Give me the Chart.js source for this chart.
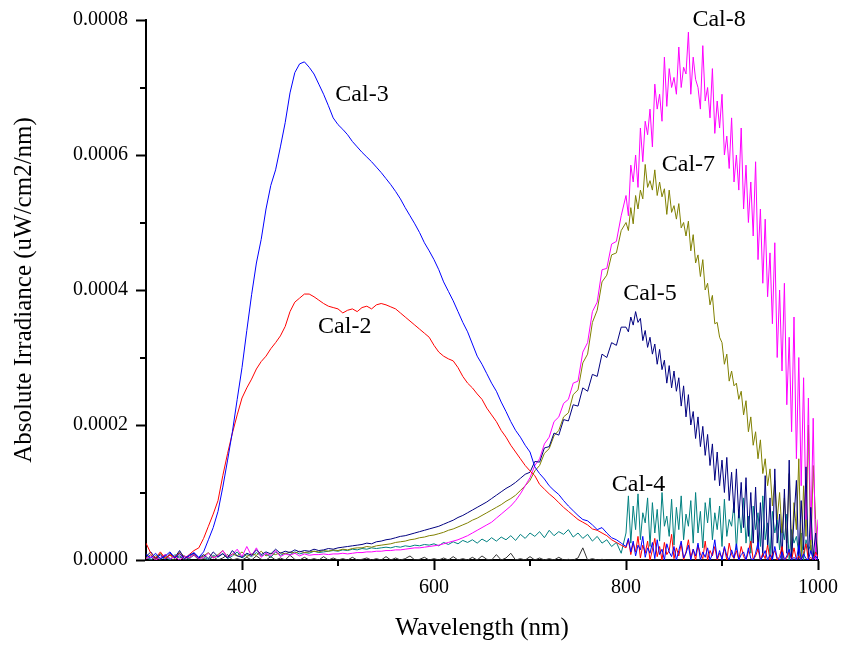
<!DOCTYPE html>
<html>
<head>
<meta charset="utf-8">
<script src="https://cdn.jsdelivr.net/npm/chart.js@4.4.1/dist/chart.umd.min.js"></script>
<style>
  html, body { margin: 0; padding: 0; background: #fff; }
  #wrap { width: 844px; height: 645px; }
</style>
</head>
<body>
<div id="wrap"><canvas id="irradianceChart" width="844" height="645"></canvas></div>
<script>
// wavelength grid (nm): every 5 nm up to 795, every 2.5 nm in the noisy 800-1000 part
const wavelengths = [
  300,305,310,315,320,325,330,335,340,345,350,355,360,365,370,375,380,385,390,395,
  400,405,410,415,420,425,430,435,440,445,450,455,460,465,470,475,480,485,490,495,
  500,505,510,515,520,525,530,535,540,545,550,555,560,565,570,575,580,585,590,595,
  600,605,610,615,620,625,630,635,640,645,650,655,660,665,670,675,680,685,690,695,
  700,705,710,715,720,725,730,735,740,745,750,755,760,765,770,775,780,785,790,795,
  800,802.5,805,807.5,810,812.5,815,817.5,820,822.5,825,827.5,830,832.5,835,837.5,840,842.5,845,847.5,
  850,852.5,855,857.5,860,862.5,865,867.5,870,872.5,875,877.5,880,882.5,885,887.5,890,892.5,895,897.5,
  900,902.5,905,907.5,910,912.5,915,917.5,920,922.5,925,927.5,930,932.5,935,937.5,940,942.5,945,947.5,
  950,952.5,955,957.5,960,962.5,965,967.5,970,972.5,975,977.5,980,982.5,985,987.5,990,992.5,995,997.5,
  1000
];

// irradiance values in units of 1e-6 uW/cm2/nm
const cal2 = [
  25,10,3,12,2,8,4,10,2,8,14,18,32,50,68,88,125,158,188,215,
  240,255,268,283,294,302,313,322,332,346,368,382,388,394,394,390,385,380,376,374,
  372,366,370,372,368,374,376,372,378,380,378,375,372,366,360,354,348,342,336,330,
  318,308,302,298,295,285,272,262,255,246,238,225,215,205,192,182,170,160,150,140,
  132,125,112,105,98,92,85,78,72,66,60,56,52,46,44,40,36,30,26,22,
  18,30,8,25,12,35,3,22,10,28,0,15,32,5,20,0,26,8,14,38,
  2,18,6,24,0,12,30,4,16,0,22,9,2,28,0,14,6,20,0,10,
  4,18,0,25,8,2,14,0,20,5,0,12,28,0,6,16,0,10,2,22,
  0,8,14,0,5,20,0,3,12,0,18,0,6,0,10,24,0,4,0,12,
  5
];
const cal3 = [
  8,3,10,2,6,12,3,9,2,7,11,4,12,30,48,72,108,148,190,238,
  285,340,393,440,475,520,555,578,612,648,692,722,735,738,730,720,705,690,673,655,
  645,638,630,620,612,604,597,590,582,574,565,556,546,535,522,510,498,485,470,458,
  445,430,412,398,384,368,352,338,320,302,290,276,262,250,234,220,205,192,182,170,
  160,138,128,120,110,103,97,88,80,73,66,60,58,52,45,48,40,33,30,25,
  20,32,12,28,6,22,15,35,4,18,10,26,2,30,8,16,0,24,12,5,
  20,0,14,28,3,10,22,0,16,6,25,0,12,4,18,0,9,30,2,14,
  0,20,6,0,15,3,24,0,8,12,0,18,2,0,10,26,0,5,14,0,
  8,0,20,3,0,12,0,6,16,0,4,0,22,0,9,2,0,14,0,6,
  0
];
const cal4 = [
  4,0,7,2,5,0,8,3,6,1,9,2,5,0,7,4,10,2,6,12,
  3,8,5,11,6,9,4,12,7,10,8,12,9,11,10,13,11,12,13,14,
  13,15,14,16,15,17,16,18,17,18,19,18,20,19,21,20,22,21,23,22,
  24,21,26,23,27,24,29,26,30,25,31,27,33,28,34,30,36,29,38,32,
  40,35,42,33,44,36,42,38,45,34,40,32,38,28,35,25,30,20,26,10,
  40,95,25,80,45,98,30,70,55,92,20,85,40,75,28,100,50,65,35,90,
  22,78,45,95,30,68,50,88,25,100,40,72,18,85,55,92,30,70,45,80,
  20,90,35,60,50,85,15,75,40,92,25,65,10,80,45,70,20,95,30,55,
  5,72,40,60,15,50,30,68,0,45,25,35,10,40,0,30,15,22,0,18,
  0
];
const cal5 = [
  5,12,2,8,0,10,4,14,2,6,10,3,8,2,12,5,9,3,14,6,
  4,10,7,15,8,12,9,16,10,13,11,15,12,14,13,16,14,15,17,16,
  18,19,20,21,22,23,25,24,27,28,30,31,33,35,36,38,40,42,44,46,
  48,50,53,56,59,63,66,70,74,78,82,86,91,96,101,106,110,115,121,127,
  130,146,145,166,168,188,185,208,206,230,228,255,250,275,272,305,300,322,318,345,
  345,338,360,348,368,352,358,325,340,315,330,305,320,290,312,282,296,262,288,255,
  280,250,270,228,258,212,245,200,220,180,212,168,198,155,186,140,172,118,160,110,
  148,100,152,88,130,70,135,62,115,48,122,35,100,25,108,15,85,5,125,20,
  92,0,135,25,68,0,105,10,148,0,62,118,0,88,15,138,0,78,5,40,
  0
];
const cal6 = [
  10,0,4,0,8,2,0,6,0,3,7,0,2,0,5,0,3,8,0,2,
  0,4,0,6,1,0,5,0,3,0,7,1,0,4,0,2,0,5,0,3,
  0,2,0,4,0,1,3,0,2,0,5,0,3,0,2,6,0,1,4,0,
  2,0,3,0,5,0,2,0,4,0,6,1,0,8,0,3,10,0,2,0,
  5,0,3,0,2,0,4,0,1,0,3,18,0,2,0,1,0,0,0,0,
  0,0,0,0,0,0,0,0,0,0,0,0,0,0,0,0,0,0,0,0,
  0,0,0,0,0,0,0,0,0,0,0,0,0,0,0,0,0,0,0,0,
  0,0,0,0,0,0,0,0,0,0,0,0,0,0,0,0,0,0,0,0,
  0,0,0,0,0,0,0,0,0,0,0,0,0,0,0,0,0,0,0,0,
  0
];
const cal7 = [
  3,8,0,10,4,7,2,12,5,3,9,2,6,11,3,8,14,4,9,6,
  12,5,9,7,13,6,10,8,11,9,12,10,13,11,12,13,12,14,13,15,
  14,16,15,17,18,18,20,19,21,22,23,24,26,27,28,30,31,33,34,36,
  37,39,41,44,46,49,52,55,59,62,66,70,74,78,82,87,91,96,103,110,
  118,132,140,158,165,184,192,212,218,245,252,292,305,352,370,412,422,452,455,488,
  500,488,522,498,540,520,548,535,586,552,562,548,578,540,560,538,550,512,548,515,
  525,505,528,492,500,480,502,458,482,440,452,420,445,400,410,378,392,350,352,330,
  322,290,305,265,280,258,262,238,250,215,236,190,212,170,190,150,178,128,150,110,
  135,80,118,60,100,40,92,25,128,5,85,45,150,0,110,35,200,10,140,60,
  0
];
const cal8 = [
  2,6,0,4,8,2,5,0,6,3,8,2,4,10,3,6,14,4,8,16,
  5,20,6,18,4,10,6,14,5,9,7,10,6,9,7,8,8,9,8,9,
  9,10,9,10,11,11,12,12,13,13,14,14,15,15,16,17,18,18,19,20,
  21,22,24,26,28,30,33,36,40,44,48,52,56,62,68,74,80,88,98,110,
  122,140,150,172,182,205,212,232,238,262,265,308,322,368,382,430,432,468,472,510,
  540,510,585,560,600,552,640,590,650,630,668,612,705,668,690,650,745,672,728,700,
  715,690,760,700,730,720,782,690,745,712,700,668,762,680,700,655,728,632,680,640,
  690,600,628,580,655,560,600,548,640,520,585,500,560,480,590,445,520,410,505,390,
  455,350,470,300,400,280,410,230,330,190,360,150,300,110,270,60,240,30,210,0,
  60
];

// axis ticks
const xMajorTicks = [400, 600, 800, 1000];
const xMinorTicks = [500, 700, 900];
const yMajorTicks = [0, 0.0002, 0.0004, 0.0006, 0.0008];
const yMinorTicks = [0.0001, 0.0003, 0.0005, 0.0007];

// curve labels placed in data coordinates
const curveLabels = [
  { text: 'Cal-3', x: 525, y: 0.000689 },
  { text: 'Cal-2', x: 507, y: 0.000345 },
  { text: 'Cal-8', x: 897, y: 0.000801 },
  { text: 'Cal-7', x: 865, y: 0.000585 },
  { text: 'Cal-5', x: 825, y: 0.000394 },
  { text: 'Cal-4', x: 813, y: 0.000111 }
];

const SERIF = "'Liberation Serif', 'Times New Roman', serif";

const toPoints = (vals) => vals.map((v, i) => ({ x: wavelengths[i], y: v * 1e-6 }));

const series = [
  { label: 'Cal-3', data: cal3, color: '#0000ff' },
  { label: 'Cal-2', data: cal2, color: '#ff0000' },
  { label: 'Cal-5', data: cal5, color: '#000080' },
  { label: 'Cal-8', data: cal8, color: '#ff00ff' },
  { label: 'Cal-7', data: cal7, color: '#808000' },
  { label: 'Cal-4', data: cal4, color: '#008080' },
  { label: 'Cal-6', data: cal6, color: '#333333' }
];

const extrasPlugin = {
  id: 'extras',
  afterDraw(chart) {
    const { ctx, scales: { x, y }, chartArea } = chart;
    ctx.save();
    ctx.strokeStyle = '#000';
    ctx.lineWidth = 2;
    ctx.beginPath();
    xMinorTicks.forEach(v => {
      const px = Math.round(x.getPixelForValue(v));
      ctx.moveTo(px, chartArea.bottom);
      ctx.lineTo(px, chartArea.bottom + 6);
    });
    yMinorTicks.forEach(v => {
      const py = Math.round(y.getPixelForValue(v));
      ctx.moveTo(chartArea.left - 6, py);
      ctx.lineTo(chartArea.left, py);
    });
    ctx.stroke();

    ctx.fillStyle = '#000';
    ctx.font = '24px ' + SERIF;
    ctx.textAlign = 'center';
    ctx.textBaseline = 'middle';
    curveLabels.forEach(l => {
      ctx.fillText(l.text, x.getPixelForValue(l.x), y.getPixelForValue(l.y));
    });
    ctx.restore();
  }
};

const ctx = document.getElementById('irradianceChart').getContext('2d');

const chart = new Chart(ctx, {
  type: 'line',
  data: {
    datasets: series.map(s => ({
      label: s.label,
      data: toPoints(s.data),
      borderColor: s.color,
      borderWidth: 1,
      pointRadius: 0,
      tension: 0,
      fill: false
    }))
  },
  options: {
    responsive: false,
    animation: false,
    devicePixelRatio: 1,
    layout: { padding: { top: 18, right: 24, left: 0, bottom: 0 } },
    plugins: {
      legend: { display: false },
      tooltip: { enabled: false }
    },
    scales: {
      x: {
        type: 'linear',
        min: 300,
        max: 1000,
        afterBuildTicks: (s) => { s.ticks = xMajorTicks.map(v => ({ value: v })); },
        afterFit: (s) => { s.height = 85; },
        ticks: {
          color: '#000',
          font: { family: SERIF, size: 20 },
          padding: 6,
          maxRotation: 0,
          callback: (v) => String(v)
        },
        grid: {
          drawOnChartArea: false,
          tickLength: 10,
          tickColor: '#000',
          tickWidth: 2
        },
        border: { display: true, color: '#000', width: 2 },
        title: {
          display: true,
          text: 'Wavelength (nm)',
          color: '#000',
          font: { family: SERIF, size: 25 },
          padding: { top: 0, bottom: 2 }
        }
      },
      y: {
        type: 'linear',
        min: 0,
        max: 0.0008,
        afterBuildTicks: (s) => { s.ticks = yMajorTicks.map(v => ({ value: v })); },
        afterFit: (s) => { s.width = 146; },
        ticks: {
          color: '#000',
          font: { family: SERIF, size: 20 },
          padding: 8,
          callback: (v) => Number(v).toFixed(4)
        },
        grid: {
          drawOnChartArea: false,
          tickLength: 10,
          tickColor: '#000',
          tickWidth: 2
        },
        border: { display: true, color: '#000', width: 2 },
        title: {
          display: true,
          text: 'Absolute Irradiance (uW/cm2/nm)',
          color: '#000',
          font: { family: SERIF, size: 25 },
          padding: { top: 9, bottom: 0 }
        }
      }
    }
  },
  plugins: [extrasPlugin]
});
</script>
</body>
</html>
